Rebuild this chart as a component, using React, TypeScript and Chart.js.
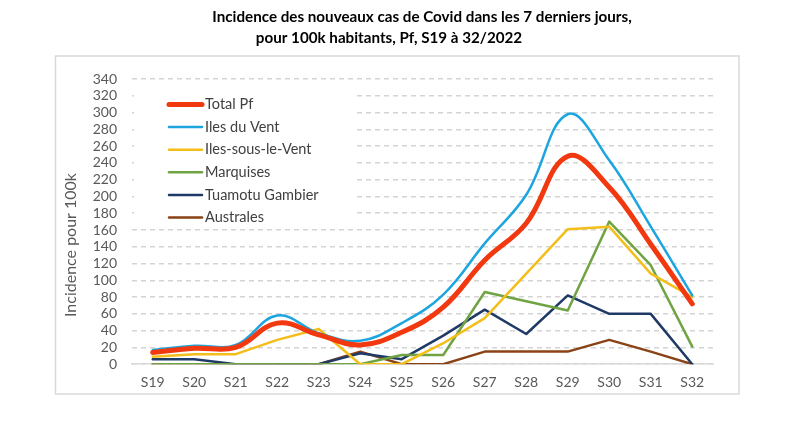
import React, { useEffect, useRef } from "react";
import { Chart, registerables } from "chart.js";

Chart.register(...registerables);

const weeks = ["S19", "S20", "S21", "S22", "S23", "S24", "S25", "S26", "S27", "S28", "S29", "S30", "S31", "S32"];
const totalPf = [14, 19, 20, 49, 35, 23, 38, 68, 124, 168, 248, 211, 143, 72];
const ilesDuVent = [17, 22, 23, 58, 37, 28, 49, 83, 144, 202, 298, 243, 164, 82];
const ilesSousLeVent = [9, 12, 12, 29, 42, 0, 0, 25, 55, 108, 161, 164, 108, 80];
const marquises = [0, 0, 0, 0, 0, 0, 11, 11, 86, 75, 64, 170, 118, 21];
const tuamotuGambier = [6, 6, 0, 0, 0, 13, 6, 34, 65, 36, 82, 60, 60, 0];
const australes = [0, 0, 0, 0, 0, 15, 0, 0, 15, 15, 15, 29, 15, 0];

const titleLine1 = "Incidence des nouveaux cas de Covid dans les 7 derniers jours,";
const titleLine2 = "pour 100k habitants, Pf, S19 à 32/2022";
const yTitle = "Incidence pour 100k";

const FONT = "Lato, 'Noto Sans', sans-serif";

const decorPlugin = {
  id: "decor",
  beforeDatasetsDraw(chart: any) {
    const ctx = chart.ctx;
    ctx.save();
    // legend background hides grid lines behind it
    ctx.fillStyle = "#ffffff";
    ctx.fillRect(134, 88, 219, 134);
    ctx.restore();
  },
  afterDraw(chart: any) {
    const ctx = chart.ctx;
    ctx.save();
    // outer box
    ctx.strokeStyle = "#d9d9d9";
    ctx.lineWidth = 1.5;
    ctx.strokeRect(55.5, 56, 683.5, 338);
    // title
    ctx.fillStyle = "#000000";
    ctx.font = `bold 15.2px ${FONT}`;
    ctx.textAlign = "center";
    ctx.textBaseline = "middle";
    ctx.fillText(titleLine1, 422, 17);
    ctx.fillText(titleLine2, 389, 38);
    // y title
    ctx.save();
    ctx.translate(71, 245);
    ctx.rotate(-Math.PI / 2);
    ctx.fillStyle = "#595959";
    ctx.font = `16px ${FONT}`;
    ctx.fillText(yTitle, 0, 0);
    ctx.restore();
    // legend
    const ds = chart.data.datasets;
    ds.forEach((d: any, i: number) => {
      const y = 104.5 + i * 22.6;
      ctx.strokeStyle = d.borderColor;
      ctx.lineWidth = d.borderWidth;
      ctx.lineCap = "round";
      ctx.beginPath();
      ctx.moveTo(169, y);
      ctx.lineTo(202, y);
      ctx.stroke();
      ctx.fillStyle = "#404040";
      ctx.font = `14.5px ${FONT}`;
      ctx.textAlign = "left";
      ctx.textBaseline = "middle";
      ctx.fillText(d.label, 205, y);
    });
    ctx.restore();
  },
};

export default function App() {
  const ref = useRef<HTMLCanvasElement | null>(null);
  useEffect(() => {
    if (!ref.current) return;
    const mk = (label: string, data: number[], color: string, width: number, tension: number) => ({
      label,
      data,
      borderColor: color,
      backgroundColor: color,
      borderWidth: width,
      tension,
      pointRadius: 0,
      borderCapStyle: "round" as const,
      borderJoinStyle: "round" as const,
      fill: false,
    });
    const chart = new Chart(ref.current, {
      type: "line",
      data: {
        labels: weeks,
        datasets: [
          mk("Total Pf", totalPf, "#F2380F", 5, 0.4),
          mk("Iles du Vent", ilesDuVent, "#1CA5DF", 2.5, 0.4),
          mk("Iles-sous-le-Vent", ilesSousLeVent, "#F4BE1A", 2.5, 0),
          mk("Marquises", marquises, "#70A443", 2.5, 0),
          mk("Tuamotu Gambier", tuamotuGambier, "#1F3A66", 2.5, 0),
          mk("Australes", australes, "#8A4317", 2.5, 0),
        ],
      },
      options: {
        animation: false,
        responsive: false,
        layout: { padding: { left: 60, right: 87, top: 79, bottom: 20 } },
        plugins: {
          legend: { display: false },
          title: { display: false },
          tooltip: { enabled: false },
        },
        scales: {
          x: {
            offset: true,
            grid: { display: false, drawTicks: false },
            border: { display: true, color: "#d9d9d9", width: 1.5 },
            ticks: { color: "#595959", font: { family: FONT, size: 14 }, padding: 10 },
          },
          y: {
            min: 0,
            max: 340,
            ticks: { stepSize: 20, autoSkip: false, color: "#595959", font: { family: FONT, size: 14 }, padding: 15 },
            grid: { color: "#d4d4d4", lineWidth: 1.5, drawTicks: false },
            border: { display: false, dash: [5, 4] },
            afterFit: (s: any) => {
              s.width = 72;
            },
          },
        },
      },
      plugins: [decorPlugin],
    });
    return () => chart.destroy();
  }, []);
  return (
    <div style={{ position: "absolute", left: 0, top: 0, width: 800, height: 421, background: "#fff" }}>
      <canvas ref={ref} width={800} height={421} />
    </div>
  );
}
